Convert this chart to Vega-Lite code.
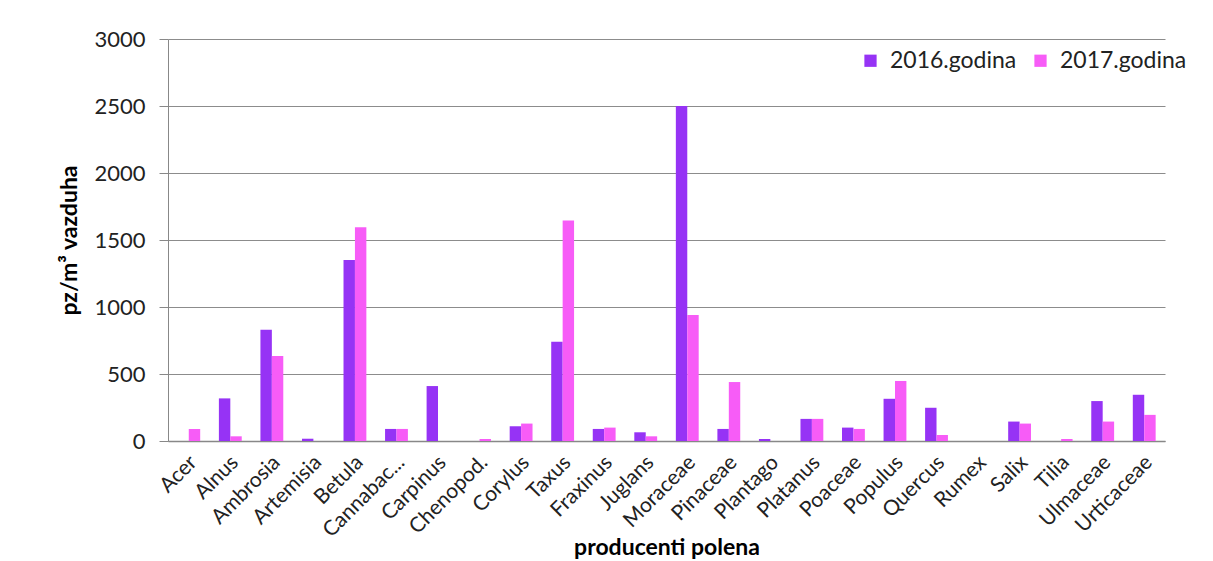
{
  "$schema": "https://vega.github.io/schema/vega-lite/v6.json",
  "autosize": {"type": "none"},
  "width": 997,
  "height": 402,
  "padding": {"left": 168, "top": 39, "right": 48, "bottom": 120},
  "background": "white",
  "data": {"values": [
    {"g": "Acer", "y": "2016.godina", "v": 0}, {"g": "Acer", "y": "2017.godina", "v": 90},
    {"g": "Alnus", "y": "2016.godina", "v": 318}, {"g": "Alnus", "y": "2017.godina", "v": 35},
    {"g": "Ambrosia", "y": "2016.godina", "v": 830}, {"g": "Ambrosia", "y": "2017.godina", "v": 635},
    {"g": "Artemisia", "y": "2016.godina", "v": 17}, {"g": "Artemisia", "y": "2017.godina", "v": 0},
    {"g": "Betula", "y": "2016.godina", "v": 1350}, {"g": "Betula", "y": "2017.godina", "v": 1595},
    {"g": "Cannabac...", "y": "2016.godina", "v": 90}, {"g": "Cannabac...", "y": "2017.godina", "v": 90},
    {"g": "Carpinus", "y": "2016.godina", "v": 410}, {"g": "Carpinus", "y": "2017.godina", "v": 0},
    {"g": "Chenopod.", "y": "2016.godina", "v": 0}, {"g": "Chenopod.", "y": "2017.godina", "v": 15},
    {"g": "Corylus", "y": "2016.godina", "v": 110}, {"g": "Corylus", "y": "2017.godina", "v": 130},
    {"g": "Taxus", "y": "2016.godina", "v": 740}, {"g": "Taxus", "y": "2017.godina", "v": 1645},
    {"g": "Fraxinus", "y": "2016.godina", "v": 90}, {"g": "Fraxinus", "y": "2017.godina", "v": 100},
    {"g": "Juglans", "y": "2016.godina", "v": 65}, {"g": "Juglans", "y": "2017.godina", "v": 35},
    {"g": "Moraceae", "y": "2016.godina", "v": 2500}, {"g": "Moraceae", "y": "2017.godina", "v": 940},
    {"g": "Pinaceae", "y": "2016.godina", "v": 90}, {"g": "Pinaceae", "y": "2017.godina", "v": 440},
    {"g": "Plantago", "y": "2016.godina", "v": 15}, {"g": "Plantago", "y": "2017.godina", "v": 0},
    {"g": "Platanus", "y": "2016.godina", "v": 165}, {"g": "Platanus", "y": "2017.godina", "v": 165},
    {"g": "Poaceae", "y": "2016.godina", "v": 100}, {"g": "Poaceae", "y": "2017.godina", "v": 90},
    {"g": "Populus", "y": "2016.godina", "v": 315}, {"g": "Populus", "y": "2017.godina", "v": 448},
    {"g": "Quercus", "y": "2016.godina", "v": 248}, {"g": "Quercus", "y": "2017.godina", "v": 45},
    {"g": "Rumex", "y": "2016.godina", "v": 0}, {"g": "Rumex", "y": "2017.godina", "v": 0},
    {"g": "Salix", "y": "2016.godina", "v": 145}, {"g": "Salix", "y": "2017.godina", "v": 130},
    {"g": "Tilia", "y": "2016.godina", "v": 0}, {"g": "Tilia", "y": "2017.godina", "v": 15},
    {"g": "Ulmaceae", "y": "2016.godina", "v": 298}, {"g": "Ulmaceae", "y": "2017.godina", "v": 145},
    {"g": "Urticaceae", "y": "2016.godina", "v": 345}, {"g": "Urticaceae", "y": "2017.godina", "v": 195}
  ]},
  "mark": {"type": "bar"},
  "encoding": {
    "x": {
      "field": "g", "type": "nominal", "sort": null,
      "scale": {"paddingInner": 0.45, "paddingOuter": 0.225},
      "axis": {
        "title": "producenti polena", "titleFont": "Lato", "titleFontSize": 23, "titleFontWeight": "bold", "titleColor": "#000",
        "titleBaseline": "alphabetic", "titleY": 113,
        "labelAngle": -45, "labelAlign": "right", "labelBaseline": "middle", "labelFont": "Lato", "labelFontSize": 21, "labelColor": "#222",
        "labelPadding": 18, "labelOffset": 5, "ticks": false, "domainColor": "#888", "domainWidth": 1.5, "labelOverlap": false
      }
    },
    "xOffset": {"field": "y", "type": "nominal", "scale": {"paddingInner": 0}},
    "y": {
      "field": "v", "type": "quantitative",
      "scale": {"domain": [0, 3000], "nice": false},
      "axis": {
        "title": "pz/m³ vazduha", "titleFont": "Lato", "titleFontSize": 23, "titleFontWeight": "bold", "titleColor": "#000", "titlePadding": 12,
        "values": [0, 500, 1000, 1500, 2000, 2500, 3000], "format": "d",
        "labelFont": "Lato", "labelFontSize": 22, "labelColor": "#222", "labelPadding": 14,
        "tickSize": 9, "tickColor": "#888", "domainColor": "#888", "gridColor": "#8c8c8c", "gridWidth": 1
      }
    },
    "color": {
      "field": "y", "type": "nominal",
      "scale": {"range": ["#9633f5", "#f75cf7"]},
      "legend": {
        "title": null, "orient": "none", "legendX": 691, "legendY": 10, "direction": "horizontal",
        "symbolType": "square", "symbolSize": 150, "labelFont": "Lato", "labelFontSize": 23, "labelColor": "#222",
        "labelOffset": 8, "columnPadding": 12, "symbolStrokeWidth": 0
      }
    }
  },
  "config": {"view": {"stroke": null}}
}
